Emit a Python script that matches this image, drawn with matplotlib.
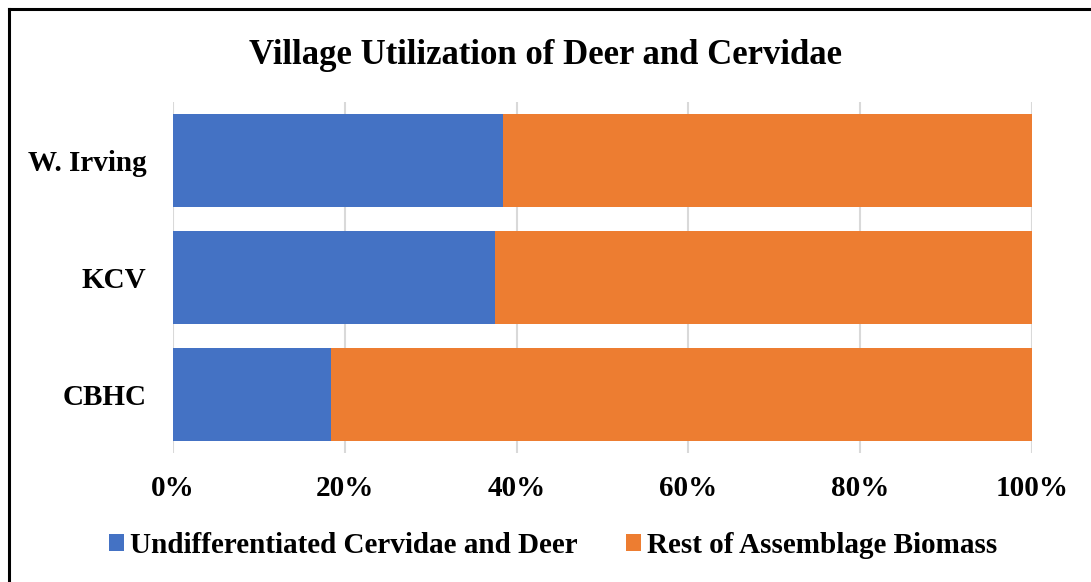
import matplotlib.pyplot as plt
from matplotlib.lines import Line2D
from matplotlib.ticker import PercentFormatter

plt.rcParams['font.family'] = ['Liberation Serif', 'DejaVu Serif']
plt.rcParams['font.weight'] = 'bold'

villages = ['CBHC', 'KCV', 'W. Irving']
deer_pct = [18.4, 37.5, 38.4]
rest_pct = [100 - v for v in deer_pct]
series_names = ['Undifferentiated Cervidae and Deer', 'Rest of Assemblage Biomass']

fig = plt.figure(figsize=(10.91, 5.82), dpi=100)
ax = fig.add_axes([0.1586, 0.2216, 0.7873, 0.6031])

ax.barh(villages, deer_pct, height=0.8, color='#4472C4', label=series_names[0])
ax.barh(villages, rest_pct, left=deer_pct, height=0.8, color='#ED7D31',
        label=series_names[1])

ax.set_xlim(0, 100)
ax.set_ylim(-0.5, 2.5)
ax.set_xticks(range(0, 101, 20))
ax.xaxis.set_major_formatter(PercentFormatter(decimals=0))
ax.grid(axis='x', color='#D9D9D9', linewidth=1.5)
ax.set_axisbelow(True)
for s in ax.spines.values():
    s.set_visible(False)
ax.tick_params(axis='x', length=0, labelsize=21, pad=16)
ax.tick_params(axis='y', length=0, labelsize=21, pad=19)

fig.suptitle('Village Utilization of Deer and Cervidae', fontsize=25,
             fontweight='bold', y=0.933)

fig.legend(loc='center', bbox_to_anchor=(0.507, 0.063), ncol=2, frameon=False,
           fontsize=21, handlelength=0.52, handleheight=0.52, handletextpad=0.2,
           columnspacing=1.65)

# chart frame: only the top and left edges fall inside the image
fig.add_artist(Line2D([0.008, 1.0], [0.985, 0.985], transform=fig.transFigure,
                      color='black', linewidth=2.2))
fig.add_artist(Line2D([0.008, 0.008], [0.0, 0.985], transform=fig.transFigure,
                      color='black', linewidth=2.2))

fig.savefig('out.png', dpi=100)
